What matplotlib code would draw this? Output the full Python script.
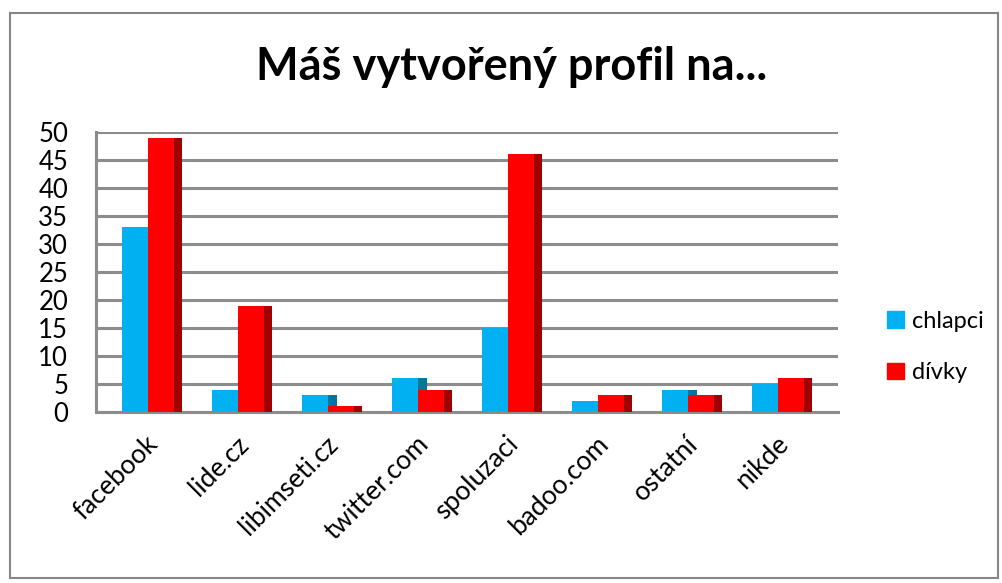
import matplotlib
matplotlib.use("Agg")
import matplotlib.pyplot as plt
import matplotlib.patches as mpatches
import numpy as np

plt.rcParams['font.family'] = ['Lato', 'DejaVu Sans']

categories = ["facebook", "lide.cz", "libimseti.cz", "twitter.com",
              "spoluzaci", "badoo.com", "ostatní", "nikde"]
chlapci = [33, 4, 3, 6, 15, 2, 4, 5]
divky = [49, 19, 1, 4, 46, 3, 3, 6]
yticks = [0, 5, 10, 15, 20, 25, 30, 35, 40, 45, 50]

BLUE, BLUE_SIDE = "#00b0f0", "#00759e"
RED, RED_SIDE = "#ff0000", "#a00000"
GRID = "#8c8c8c"

fig = plt.figure(figsize=(10.02, 5.83), dpi=100)
ax = fig.add_axes([0.0958, 0.2933, 0.7405, 0.4803])

x = np.arange(len(categories))
w = 0.289      # front face width
side = 0.097   # visible depth face

# blue bars: side first, then front; red drawn after so it covers blue's side
ax.bar(x - 0.211 + w, chlapci, width=side, align="edge", color=BLUE_SIDE, zorder=2)
ax.bar(x - 0.211, chlapci, width=w, align="edge", color=BLUE, zorder=3)
ax.bar(x + 0.078 + 0.284, divky, width=side, align="edge", color=RED_SIDE, zorder=4)
ax.bar(x + 0.078, divky, width=0.284, align="edge", color=RED, zorder=5)

ax.set_xlim(-0.5, 7.745)
ax.set_ylim(0, 50)
ax.set_yticks(yticks)
ax.set_yticklabels([str(t) for t in yticks], fontsize=18.5)
ax.yaxis.grid(True, color=GRID, linewidth=2.2)
ax.set_axisbelow(True)
ax.tick_params(axis="y", length=0, pad=20)
ax.tick_params(axis="x", length=0, pad=14)
ax.set_xticks(x + 0.05)
ax.set_xticklabels(categories, rotation=45, ha="right", rotation_mode="anchor",
                   fontsize=19)
for s in ("top", "right"):
    ax.spines[s].set_visible(False)
for s in ("left", "bottom"):
    ax.spines[s].set_color(GRID)
    ax.spines[s].set_linewidth(2.2)

fig.text(0.511, 0.885, "Máš vytvořený profil na...", ha="center", va="center",
         fontsize=32.5, fontweight="bold")

handles = [mpatches.Patch(color=BLUE, label="chlapci"),
           mpatches.Patch(color=RED, label="dívky")]
fig.legend(handles=handles, loc="center left", bbox_to_anchor=(0.864, 0.405),
           frameon=False, fontsize=17, handlelength=0.7, handleheight=0.7,
           handletextpad=0.35, labelspacing=1.3)

# outer chart border
fig.patches.append(mpatches.Rectangle((0.010, 0.008), 0.986, 0.970,
                                      transform=fig.transFigure, fill=False,
                                      edgecolor="#868686", linewidth=1.5))

fig.savefig("out.png", dpi=100, facecolor="white")
